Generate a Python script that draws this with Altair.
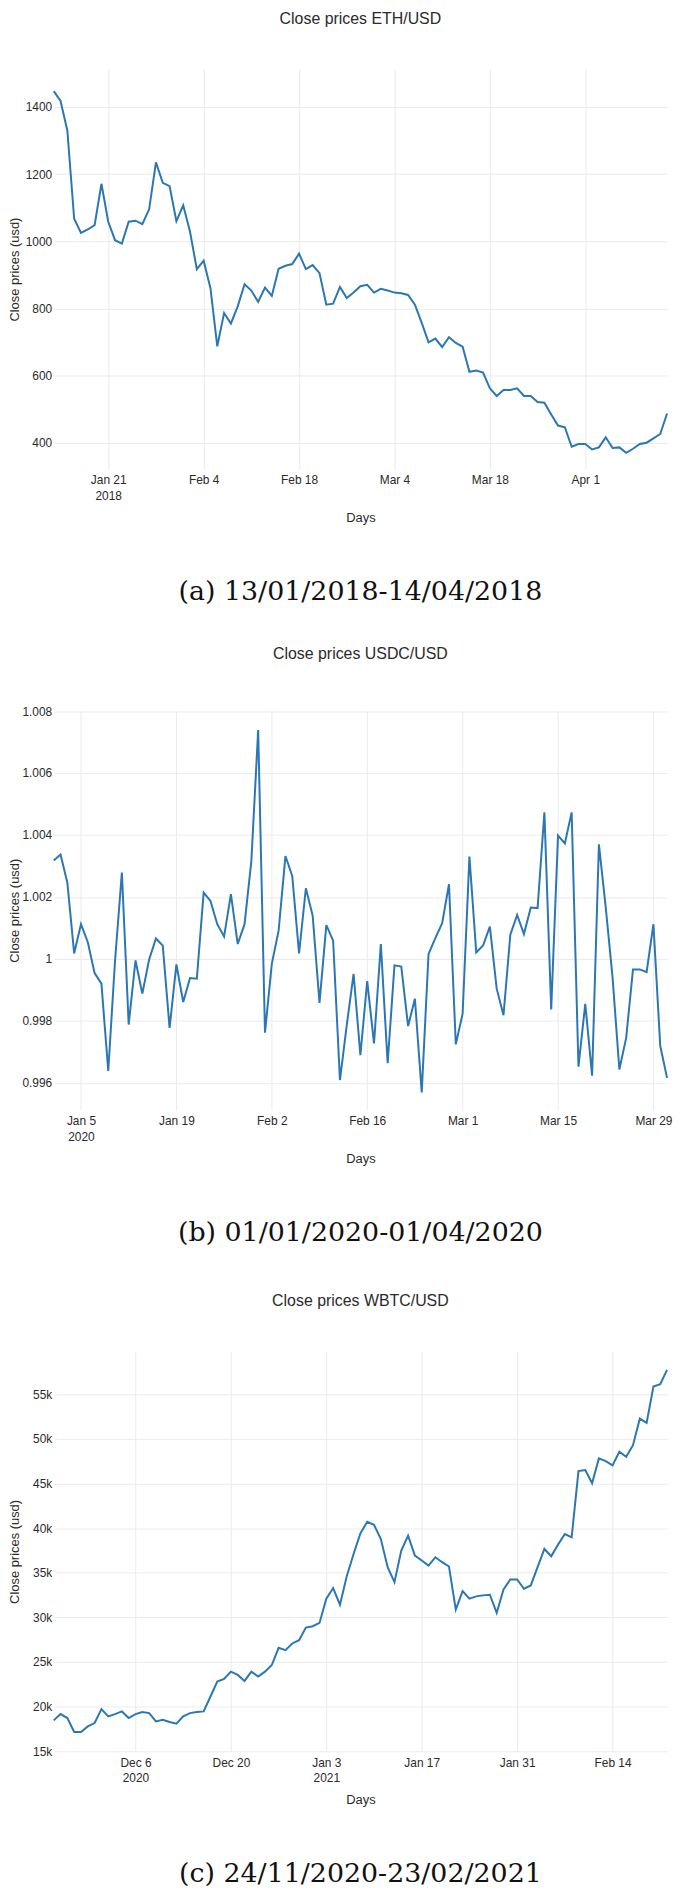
import json
import altair as alt
import pandas as pd

FONT = "Liberation Sans, Arial, sans-serif"
TEXT_COLOR = "#2a2a2a"

# ---------------- data ----------------
eth_start = "2018-01-13"
eth_close = [1447, 1418, 1329, 1067, 1025, 1035, 1048, 1171, 1058, 1003,
             993, 1058, 1061, 1051, 1095, 1235, 1174, 1164, 1060, 1107,
             1028, 917, 942, 860, 687, 786, 755, 806, 872, 853,
             819, 862, 837, 918, 927, 932, 963, 917, 929, 905,
             811, 814, 864, 831, 847, 866, 870, 847, 858, 853,
             847, 845, 840, 811, 757, 699, 710, 685, 714, 697,
             686, 611, 615, 609, 562, 539, 557, 557, 562, 539,
             539, 521, 519, 484, 451, 446, 388, 396, 396, 380,
             386, 416, 384, 386, 370, 382, 396, 400, 413, 426, 487]

usdc_start = "2020-01-01"
usdc_close = [1.00318, 1.00337, 1.00246, 1.00018, 1.00112, 1.00054, 0.99954, 0.99920, 0.99638, 0.99995,
              1.00279, 0.99788, 0.99995, 0.99888, 0.99998, 1.00066, 1.00043, 0.99777, 0.99982, 0.99861,
              0.99938, 0.99936, 1.00214, 1.00187, 1.00112, 1.00072, 1.00209, 1.00048, 1.00112, 1.00316,
              1.00739, 0.99762, 0.99984, 1.00091, 1.00332, 1.00268, 1.00018, 1.00228, 1.00139, 0.99858,
              1.00109, 1.00059, 0.99609, 0.99786, 0.99952, 0.99689, 0.99928, 0.99727, 1.00048, 0.99663,
              0.99979, 0.99975, 0.99783, 0.99871, 0.99569, 1.00016, 1.00067, 1.00115, 1.00241, 0.99724,
              0.99823, 1.00330, 1.00021, 1.00043, 1.00104, 0.99904, 0.99818, 1.00078, 1.00142, 1.00080,
              1.00166, 1.00164, 1.00473, 0.99837, 1.00398, 1.00373, 1.00473, 0.99652, 0.99855, 0.99623,
              1.00370, 1.00166, 0.99941, 0.99643, 0.99745, 0.99966, 0.99966, 0.99957, 1.00112, 0.99719,
              0.99616]

wbtc_start = "2020-11-24"
wbtc_close = [18455, 19161, 18715, 17155, 17155, 17786, 18158, 19718, 18900, 19161,
              19458, 18715, 19161, 19384, 19272, 18344, 18530, 18270, 18083, 18900,
              19272, 19384, 19458, 21130, 22800, 23100, 23916, 23545, 22876, 23916,
              23359, 23916, 24659, 26591, 26331, 27074, 27445, 28857, 29006, 29377,
              32089, 33278, 31420, 34615, 37104, 39400, 40700, 40374, 38776, 35618,
              33947, 37476, 39148, 36919, 36361, 35804, 36733, 36176, 35692, 30863,
              32943, 32089, 32349, 32461, 32535, 30491, 33129, 34244, 34244, 33204,
              33575, 35618, 37662, 36844, 38145, 39334, 38962, 46392, 46503, 45017,
              47804, 47507, 47024, 48547, 47990, 49290, 52262, 51779, 55865, 56125,
              57723]

titles = ["Close prices ETH/USD", "Close prices USDC/USD", "Close prices WBTC/USD"]
captions = ["(a) 13/01/2018-14/04/2018", "(b) 01/01/2020-01/04/2020", "(c) 24/11/2020-23/02/2021"]

eth_xticks = ["2018-01-21", "2018-02-04", "2018-02-18", "2018-03-04", "2018-03-18", "2018-04-01"]
eth_xlabels = [["Jan 21", "2018"], "Feb 4", "Feb 18", "Mar 4", "Mar 18", "Apr 1"]
usdc_xticks = ["2020-01-05", "2020-01-19", "2020-02-02", "2020-02-16", "2020-03-01", "2020-03-15", "2020-03-29"]
usdc_xlabels = [["Jan 5", "2020"], "Jan 19", "Feb 2", "Feb 16", "Mar 1", "Mar 15", "Mar 29"]
wbtc_xticks = ["2020-12-06", "2020-12-20", "2021-01-03", "2021-01-17", "2021-01-31", "2021-02-14"]
wbtc_xlabels = [["Dec 6", "2020"], "Dec 20", ["Jan 3", "2021"], "Jan 17", "Jan 31", "Feb 14"]

eth_yticks = [400, 600, 800, 1000, 1200, 1400]
eth_ylabels = ["400", "600", "800", "1000", "1200", "1400"]
usdc_yticks = [0.996, 0.998, 1.0, 1.002, 1.004, 1.006, 1.008]
usdc_ylabels = ["0.996", "0.998", "1", "1.002", "1.004", "1.006", "1.008"]
wbtc_yticks = [15000, 20000, 25000, 30000, 35000, 40000, 45000, 50000, 55000]
wbtc_ylabels = ["15k", "20k", "25k", "30k", "35k", "40k", "45k", "50k", "55k"]

eth_ydomain = [322, 1512]
usdc_ydomain = [0.99512, 1.00802]
wbtc_ydomain = [15000, 59770]

PLOT_W = 617
PLOT_H = 402


def to_dt(s):
    y, m, d = (int(p) for p in s.split("-"))
    return alt.DateTime(year=y, month=m, date=d)


def x_label_expr(ticks, labels):
    expr = "''"
    for t, lab in reversed(list(zip(ticks, labels))):
        expr = f"timeFormat(datum.value, '%Y-%m-%d') == '{t}' ? {json.dumps(lab)} : ({expr})"
    return expr


def y_label_expr(ticks, labels):
    expr = "''"
    for v, lab in reversed(list(zip(ticks, labels))):
        expr = f"abs(datum.value - {v}) < 1e-7 ? '{lab}' : ({expr})"
    return expr


def panel(start, values, title, caption, xticks, xlabels, yticks, ylabels, ydomain):
    dates = pd.date_range(start, periods=len(values), freq="D").strftime("%Y/%m/%d")
    df = pd.DataFrame({"date": list(dates), "close": values})
    line = alt.Chart(df).mark_line(color="#2a77b3", strokeWidth=2).encode(
        x=alt.X(
            "date:T",
            title="Days",
            scale=alt.Scale(nice=False),
            axis=alt.Axis(
                values=[to_dt(t) for t in xticks],
                labelExpr=x_label_expr(xticks, xlabels),
                labelPadding=6,
                labelLineHeight=15.5,
                labelFlush=False,
                labelOverlap=False,
                titleY=49,
                titleBaseline="middle",
            ),
        ),
        y=alt.Y(
            "close:Q",
            title="Close prices (usd)",
            scale=alt.Scale(domain=ydomain, nice=False, zero=False),
            axis=alt.Axis(
                values=yticks,
                labelExpr=y_label_expr(yticks, ylabels),
                labelPadding=2,
                titleX=-39.5,
                titleY=PLOT_H / 2,
                titleAngle=270,
                titleAlign="center",
                titleBaseline="middle",
            ),
        ),
    )
    cap = alt.Chart(pd.DataFrame({"t": [caption]})).mark_text(
        font="DejaVu Serif", fontSize=27, color="#111111", align="center", baseline="middle"
    ).encode(text="t:N", x=alt.value(PLOT_W / 2), y=alt.value(526))
    return alt.layer(line, cap).properties(
        width=PLOT_W,
        height=PLOT_H,
        title=alt.Title(
            title, font=FONT, fontSize=16, fontWeight="normal", color=TEXT_COLOR,
            anchor="middle", frame="group", offset=43,
        ),
    )


p1 = panel(eth_start, eth_close, titles[0], captions[0], eth_xticks, eth_xlabels,
           eth_yticks, eth_ylabels, eth_ydomain)
p2 = panel(usdc_start, usdc_close, titles[1], captions[1], usdc_xticks, usdc_xlabels,
           usdc_yticks, usdc_ylabels, usdc_ydomain)
p3 = panel(wbtc_start, wbtc_close, titles[2], captions[2], wbtc_xticks, wbtc_xlabels,
           wbtc_yticks, wbtc_ylabels, wbtc_ydomain)

chart = (
    alt.vconcat(p1, p2, p3, spacing=243, bounds="flush")
    .properties(padding={"left": 0, "top": -3, "right": 5, "bottom": 5})
    .configure_view(stroke=None)
    .configure_axis(
        labelFont=FONT, labelFontSize=12, labelColor=TEXT_COLOR,
        titleFont=FONT, titleFontSize=13, titleFontWeight="normal", titleColor=TEXT_COLOR,
        gridColor="#ebebeb", gridWidth=1, domain=False, ticks=False, tickSize=0,
    )
)

chart.save("out.html", embed_options={"renderer": "svg", "actions": False})
